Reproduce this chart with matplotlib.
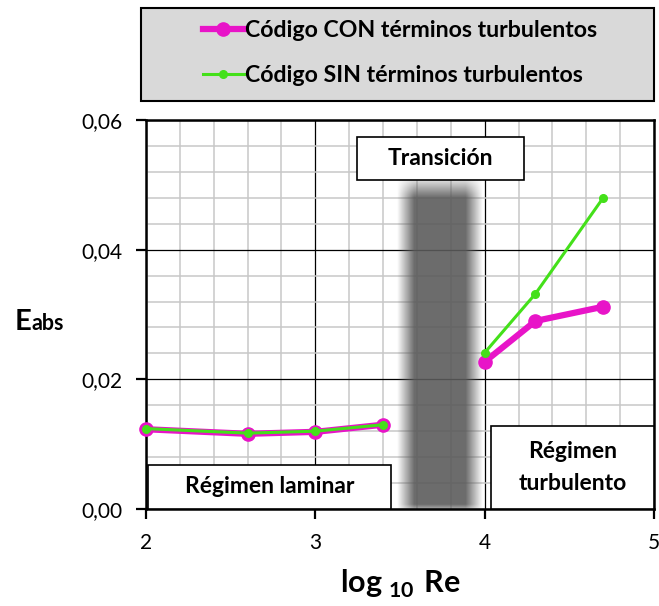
import numpy as np
import matplotlib
matplotlib.use("Agg")
import matplotlib.pyplot as plt
from matplotlib.patches import Rectangle
from matplotlib.lines import Line2D
from matplotlib.ticker import MultipleLocator, FixedLocator, FuncFormatter

plt.rcParams['font.family'] = ['Lato', 'DejaVu Sans']
plt.rcParams['mathtext.fontset'] = 'custom'
plt.rcParams['mathtext.bf'] = 'Lato:bold'
plt.rcParams['mathtext.rm'] = 'Lato'

# data
lam_x = [2.0, 2.6, 3.0, 3.4]
lam_con = [0.0123, 0.0116, 0.0119, 0.0130]
lam_sin = [0.0124, 0.0117, 0.0120, 0.0130]
tur_x = [4.0, 4.3, 4.7]
tur_con = [0.0227, 0.0290, 0.0312]
tur_sin = [0.0241, 0.0332, 0.0480]
x_ticks = [2, 3, 4, 5]
y_ticks = [0.0, 0.02, 0.04, 0.06]
label_con = "Código CON términos turbulentos"
label_sin = "Código SIN términos turbulentos"

MAG = '#E814C8'
GRN = '#44E01A'

fig = plt.figure(figsize=(6.59, 6.06), dpi=100)
ax = fig.add_axes([146 / 659, 1 - 509 / 606, 508 / 659, 389 / 606])
ax.set_xlim(2, 5)
ax.set_ylim(0, 0.06)

ax.xaxis.set_major_locator(FixedLocator(x_ticks))
ax.yaxis.set_major_locator(FixedLocator(y_ticks))
ax.xaxis.set_minor_locator(MultipleLocator(0.2))
ax.yaxis.set_minor_locator(MultipleLocator(0.004))
ax.yaxis.set_major_formatter(FuncFormatter(lambda v, p: "{:.2f}".format(v).replace('.', ',')))
ax.xaxis.set_major_formatter(FuncFormatter(lambda v, p: "{:d}".format(int(round(v)))))
ax.grid(which='minor', color='#c8c8c8', lw=1.1, zorder=0)
ax.grid(which='major', color='black', lw=0.9, zorder=0)
ax.set_axisbelow(True)
ax.tick_params(which='minor', length=0)
ax.tick_params(which='major', direction='out', length=7, width=1.6,
               labelsize=15, pad=10, colors='black')
for s in ax.spines.values():
    s.set_linewidth(1.8)
    s.set_color('black')

# blurred transition band (decoration only)
nx, ny = 200, 400
xs = np.linspace(0, 1, nx)
ys = np.linspace(0, 1, ny)
px = np.clip(np.minimum(xs, 1 - xs) / 0.2, 0, 1)
py = np.clip(np.minimum(ys / 0.03, (1 - ys) / 0.065), 0, 1)
img = np.zeros((ny, nx, 4))
img[..., :3] = 0.36
img[..., 3] = np.outer(py, px) * 0.9
ax.imshow(img, extent=(3.48, 3.985, -0.0009, 0.0515), origin='lower',
          aspect='auto', zorder=1.5, interpolation='bilinear')

# series
ax.plot(lam_x, lam_con, color=MAG, lw=4.5, marker='o', ms=9.5, zorder=3, clip_on=False)
ax.plot(tur_x, tur_con, color=MAG, lw=4.5, marker='o', ms=9.5, zorder=3, clip_on=False)
ax.plot(lam_x, lam_sin, color=GRN, lw=2.2, marker='o', ms=5.5, zorder=4, clip_on=False)
ax.plot(tur_x, tur_sin, color=GRN, lw=2.2, marker='o', ms=5.5, zorder=4, clip_on=False)

# annotation boxes
boxes = [
    ((3.247, 0.0508), 0.988, 0.0066, "Transición"),
    ((2.012, 0.0), 1.435, 0.0068, "Régimen laminar"),
    ((4.035, 0.0), 0.965, 0.0128, "Régimen\nturbulento"),
]
for (bx, by), bw, bh, txt in boxes:
    ax.add_patch(Rectangle((bx, by), bw, bh, facecolor='white', edgecolor='black',
                           lw=1.2, zorder=5))
    ax.text(bx + bw / 2, by + bh / 2, txt, ha='center', va='center', fontsize=16.5,
            fontweight='bold', zorder=6, linespacing=1.6)

# axis labels
fig.text(15 / 659, 1 - 330 / 606, "E", fontsize=21, fontweight='bold', va='baseline')
fig.text(31 / 659, 1 - 330 / 606, "abs", fontsize=15.5, fontweight='bold', va='baseline')
fig.text(400 / 659, 1 - 593 / 606, r"$\mathbf{log}\:{}_{\mathbf{10}}\ \mathbf{Re}$",
         fontsize=22, ha='center', va='baseline')

# legend box at top
fig.patches.append(Rectangle((141 / 659, 1 - 101 / 606), 513 / 659, 93 / 606,
                             transform=fig.transFigure, facecolor='#d9d9d9',
                             edgecolor='black', lw=1.5))
handles = [Line2D([], [], color=MAG, lw=4.5, marker='o', ms=9.5),
           Line2D([], [], color=GRN, lw=2.2, marker='o', ms=5.5)]
leg = fig.legend(handles, [label_con, label_sin], loc='center',
                 bbox_to_anchor=(400 / 659, 1 - 53 / 606), frameon=False,
                 prop={'size': 16.7, 'weight': 'bold'}, handlelength=1.75,
                 handletextpad=0.05, labelspacing=1.05)

fig.savefig("out.png", dpi=100)
